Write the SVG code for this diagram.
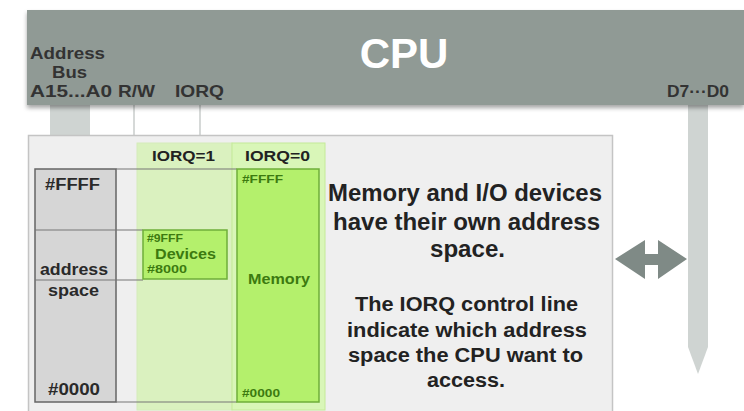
<svg xmlns="http://www.w3.org/2000/svg" width="744" height="411" viewBox="0 0 744 411">
  <defs>
    <style>
      text { font-family: "Liberation Sans", Arial, sans-serif; font-weight: bold; }
      .lbl { fill: #333; font-size: 16.5px; }
      .grid { stroke: #777; stroke-width: 1.2; fill: none; }
      .mono { fill: #2a2a2a; font-size: 16px; }
      .gsmall { fill: #3c7a10; font-size: 11.5px; }
      .note { fill: #222; }
    </style>
    <filter id="shadow" x="-5%" y="-20%" width="110%" height="150%">
      <feDropShadow dx="0" dy="3" stdDeviation="2" flood-color="#000" flood-opacity="0.35"/>
    </filter>
  </defs>
  <rect width="744" height="411" fill="#ffffff"/>

  <!-- bus lines from the CPU -->
  <g id="connectors">
    <rect x="50" y="100" width="40" height="38" fill="#cfd4d2"/>
    <line x1="134" y1="100" x2="134" y2="136" stroke="#c8cccb" stroke-width="1.5"/>
    <line x1="200" y1="100" x2="200" y2="136" stroke="#c8cccb" stroke-width="1.5"/>
    <!-- data bus -->
    <path d="M688,100 L708,100 L708,347 L698,374 L688,347 Z" fill="#cfd4d2"/>
    <!-- double arrow -->
    <path d="M615,259 L645,240 L645,254 L658,254 L658,240 L687,259 L658,279 L658,265 L645,265 L645,279 Z" fill="#7f8a86"/>
  </g>

  <!-- CPU -->
  <g id="cpu">
    <rect x="27" y="10" width="717" height="95" fill="#909a95" filter="url(#shadow)"/>
    <text x="404" y="68" font-size="42" fill="#ffffff" text-anchor="middle">CPU</text>
    <text class="lbl" x="30" y="59" textLength="75" lengthAdjust="spacingAndGlyphs">Address</text>
    <text class="lbl" x="52" y="78" textLength="35" lengthAdjust="spacingAndGlyphs">Bus</text>
    <text class="lbl" x="30" y="97" textLength="82" lengthAdjust="spacingAndGlyphs">A15...A0</text>
    <text class="lbl" x="118" y="97" textLength="37" lengthAdjust="spacingAndGlyphs">R/W</text>
    <text class="lbl" x="175" y="97" textLength="49" lengthAdjust="spacingAndGlyphs">IORQ</text>
    <text class="lbl" x="667" y="97" textLength="62" lengthAdjust="spacingAndGlyphs">D7···D0</text>
  </g>

  <!-- address space panel -->
  <g id="panel">
    <rect x="28.5" y="135.5" width="584" height="280" fill="#efefef" stroke="#c4c4c4" stroke-width="1.5"/>
  </g>

  <g id="iorq1">
    <rect x="137" y="143" width="95" height="267" fill="#cdf3a0" opacity="0.6" stroke="#c4ea98"/>
    <text x="152" y="161" font-size="15" fill="#222" textLength="63" lengthAdjust="spacingAndGlyphs">IORQ=1</text>
  </g>
  <g id="iorq0">
    <rect x="232" y="143" width="93" height="267" fill="#d9f6b8" stroke="#c4ea98"/>
    <text x="245" y="161" font-size="15" fill="#222" textLength="65" lengthAdjust="spacingAndGlyphs">IORQ=0</text>
  </g>

  <g id="address-space">
    <rect x="35" y="169" width="81" height="233" fill="#d6d6d6" stroke="#666" stroke-width="1.5"/>
    <line class="grid" x1="116" y1="169" x2="237" y2="169"/>
    <line class="grid" x1="35" y1="230" x2="143" y2="230"/>
    <line class="grid" x1="35" y1="280" x2="143" y2="280"/>
    <line class="grid" x1="116" y1="402" x2="237" y2="402"/>
    <text class="mono" x="45" y="190" textLength="55" lengthAdjust="spacingAndGlyphs">#FFFF</text>
    <text class="mono" x="40" y="275" textLength="68" lengthAdjust="spacingAndGlyphs">address</text>
    <text class="mono" x="48" y="296" textLength="51" lengthAdjust="spacingAndGlyphs">space</text>
    <text class="mono" x="48" y="395" textLength="52" lengthAdjust="spacingAndGlyphs">#0000</text>
  </g>

  <g id="devices">
    <rect x="143" y="230" width="84" height="49" fill="#b4f06c" stroke="#6fae3a" stroke-width="1.5"/>
    <text class="gsmall" x="147" y="242" textLength="36" lengthAdjust="spacingAndGlyphs">#9FFF</text>
    <text x="155" y="259" font-size="14" fill="#3c7a10" textLength="61" lengthAdjust="spacingAndGlyphs">Devices</text>
    <text class="gsmall" x="147" y="273" textLength="40" lengthAdjust="spacingAndGlyphs">#8000</text>
  </g>

  <g id="memory">
    <rect x="237" y="169" width="82" height="233" fill="#b4f06c" stroke="#6fae3a" stroke-width="1.5"/>
    <text class="gsmall" x="242" y="183" textLength="41" lengthAdjust="spacingAndGlyphs">#FFFF</text>
    <text x="248" y="284" font-size="15" fill="#3c7a10" textLength="62" lengthAdjust="spacingAndGlyphs">Memory</text>
    <text class="gsmall" x="242" y="397" textLength="38" lengthAdjust="spacingAndGlyphs">#0000</text>
  </g>

  <g id="notes">
    <text class="note" x="328" y="201" font-size="23" textLength="274" lengthAdjust="spacingAndGlyphs">Memory and I/O devices</text>
    <text class="note" x="333" y="230" font-size="23" textLength="267" lengthAdjust="spacingAndGlyphs">have their own address</text>
    <text class="note" x="430" y="257" font-size="23" textLength="75" lengthAdjust="spacingAndGlyphs">space.</text>
    <text class="note" x="355" y="311" font-size="19.5" textLength="223" lengthAdjust="spacingAndGlyphs">The IORQ control line</text>
    <text class="note" x="347" y="337" font-size="19.5" textLength="240" lengthAdjust="spacingAndGlyphs">indicate which address</text>
    <text class="note" x="348" y="362" font-size="19.5" textLength="235" lengthAdjust="spacingAndGlyphs">space the CPU want to</text>
    <text class="note" x="427" y="387" font-size="19.5" textLength="78" lengthAdjust="spacingAndGlyphs">access.</text>
  </g>
</svg>
